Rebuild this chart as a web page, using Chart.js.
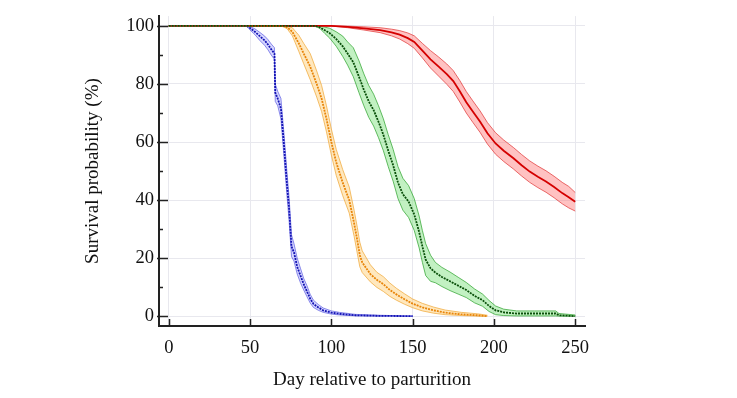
<!DOCTYPE html>
<html>
<head>
<meta charset="utf-8">
<script src="https://cdn.jsdelivr.net/npm/chart.js@4.4.1/dist/chart.umd.min.js"></script>
<style>
  html, body { margin: 0; padding: 0; background: #fff; }
  canvas { display: block; }
</style>
</head>
<body>
<canvas id="survival" width="737" height="398"></canvas>
<script>
// ticks
var xTicks = [0, 50, 100, 150, 200, 250];
var yTicks = [0, 20, 40, 60, 80, 100];
var yMinorTicks = [10, 30, 50, 70, 90];

// blue group
var blueDays  = [0, 48, 50, 53, 56, 59, 61, 63, 65, 65.5, 67, 69, 71, 72.5, 74, 75.5, 77, 79, 81, 83, 85, 87, 89, 92, 95, 100, 105, 115, 130, 150];
var blueSurv  = [100, 100, 99.3, 98, 96.5, 95, 93.6, 92, 90.5, 77, 75, 71.5, 58, 47, 37, 24, 22, 17, 14, 11, 8.5, 6, 4.2, 3, 2, 1.2, 0.8, 0.3, 0.1, 0];
var blueUpper = [100, 100, 99.8, 99, 97.8, 96.5, 95.3, 93.8, 92.5, 80, 77.5, 75, 62, 51, 41, 28, 25, 20, 16.5, 13, 10.5, 7.5, 5.5, 4, 2.8, 1.8, 1.3, 0.6, 0.3, 0];
var blueLower = [100, 100, 98.6, 97, 95, 93.3, 91.8, 90, 88.5, 74, 72.5, 68, 54, 43, 33, 20.5, 19, 14.5, 11.5, 9, 6.7, 4.5, 3, 2, 1.3, 0.7, 0.4, 0.1, 0, 0];

// orange group
var orangeDays  = [0, 70, 73, 76, 80, 83, 87, 91, 94, 97, 100, 103, 107, 111, 114, 116, 117.5, 119, 124, 128, 132, 136, 140, 145, 150, 156, 163, 170, 180, 190, 196];
var orangeSurv  = [100, 100, 99.5, 98, 94, 90.5, 86, 80, 75, 68, 60, 53, 46, 40, 32, 26, 21, 18.5, 14.5, 12.5, 11, 9, 7.5, 5.8, 4.3, 3, 2, 1.2, 0.6, 0.3, 0];
var orangeUpper = [100, 100, 99.9, 99.4, 96.8, 94, 90.5, 84.5, 79.5, 72.5, 64.5, 57.5, 50.5, 44.5, 36.5, 30.5, 25.5, 22.5, 17.7, 15.1, 13.6, 11.4, 9.6, 7.7, 5.9, 4.4, 3.1, 2.1, 1.3, 0.8, 0.3];
var orangeLower = [100, 100, 98.9, 96.6, 91.2, 87, 81.5, 75.5, 70.5, 63.5, 55.5, 48.5, 41.5, 35.5, 27.5, 21.5, 17, 15, 11.8, 9.9, 8.5, 6.8, 5.5, 4.1, 2.9, 1.8, 1, 0.5, 0.2, 0, 0];

// green group
var greenDays  = [0, 90, 93, 96, 99, 103, 107, 110, 113.5, 117, 120, 123, 126, 129, 132, 135, 138, 141, 144, 147.5, 151, 154, 156, 158, 161, 164, 168, 173, 178, 183, 188, 193, 197, 201, 206, 214, 225, 238, 240, 250];
var greenSurv  = [100, 100, 99.5, 98.5, 97.5, 95.5, 93, 90.5, 87.5, 82.5, 78, 74, 71, 67, 62.5, 57, 52, 46, 42, 39.5, 35, 29, 24, 19.5, 16.5, 15, 13.5, 12, 10.5, 9, 7, 5.5, 3.5, 2, 1.3, 0.9, 0.9, 0.9, 0.3, 0];
var greenUpper = [100, 100, 99.9, 99.6, 99.2, 98, 96.5, 94.5, 92.5, 88, 83.5, 79.5, 76.5, 72.5, 68, 62.5, 57.5, 51.5, 47.5, 45, 40.5, 34.5, 29.5, 25, 21, 18.5, 16.8, 15.2, 13.4, 11.6, 9.4, 7.6, 5.4, 3.5, 2.4, 1.8, 1.8, 1.8, 0.9, 0.4];
var greenLower = [100, 100, 99.1, 97.4, 95.8, 93, 89.5, 86.5, 82.5, 77, 72.5, 68.5, 65.5, 61.5, 57, 51.5, 46.5, 40.5, 36.5, 34, 29.5, 23.5, 18.5, 14, 12, 11.5, 10.2, 8.8, 7.6, 6.4, 4.6, 3.4, 1.6, 0.5, 0.2, 0.05, 0.05, 0.05, 0, 0];

// red group
var redDays  = [0, 100, 110, 120, 130, 137, 142, 147, 151, 156, 161, 166, 171, 175, 179, 183, 187, 191.5, 196, 201, 206, 212, 217, 222, 227, 232, 237, 242, 246, 250];
var redSurv  = [100, 100, 99.7, 99.2, 98.6, 97.8, 97, 95.8, 94.5, 91.5, 88.5, 86, 83.4, 81, 77.5, 73.7, 70.5, 67, 63, 59.5, 57, 54.4, 52, 49.8, 48, 46.4, 44.5, 42.4, 41, 39.4];
var redUpper = [100, 100, 99.95, 99.7, 99.4, 98.9, 98.4, 97.6, 96.6, 94, 91.5, 89.3, 86.9, 84.6, 81.2, 77.4, 74.2, 70.7, 66.7, 63.2, 60.7, 58.1, 55.7, 53.5, 51.7, 50.1, 48.2, 46.1, 44.7, 42.6];
var redLower = [100, 100, 99.4, 98.6, 97.7, 96.6, 95.5, 93.9, 92.3, 89, 85.5, 82.7, 79.9, 77.4, 73.8, 70, 66.8, 63.3, 59.3, 55.8, 53.3, 50.7, 48.3, 46.1, 44.3, 42.7, 40.8, 38.7, 37.3, 36.2];

function pts(xs, ys) {
  return xs.map(function(x, i){ return {x: x, y: ys[i]}; });
}

// band = lower line + upper line filled down to it, then the survival line on top
function group(days, surv, upper, lower, lineColor, fillColor, edgeColor, dash, width) {
  return [
    { data: pts(days, lower), borderColor: edgeColor, borderWidth: 1, pointRadius: 0, fill: false, order: 2 },
    { data: pts(days, upper), borderColor: edgeColor, borderWidth: 1, pointRadius: 0, fill: '-1', backgroundColor: fillColor, order: 2 },
    { data: pts(days, surv), borderColor: lineColor, borderWidth: width, borderDash: dash, pointRadius: 0, fill: false, order: 1 }
  ];
}

// green first so its line sits on top along the 100% line
var datasets = []
  .concat(group(greenDays, greenSurv, greenUpper, greenLower, '#0a500a', 'rgba(120,225,120,0.45)', 'rgba(40,160,40,0.7)', [2, 1], 1.8))
  .concat(group(orangeDays, orangeSurv, orangeUpper, orangeLower, '#e8850a', 'rgba(255,205,110,0.45)', 'rgba(240,165,50,0.7)', [2, 1], 1.8))
  .concat(group(blueDays, blueSurv, blueUpper, blueLower, '#1414b4', 'rgba(120,120,255,0.30)', 'rgba(70,70,220,0.6)', [2, 1], 1.8))
  .concat(group(redDays, redSurv, redUpper, redLower, '#d40000', 'rgba(255,120,120,0.45)', 'rgba(225,60,60,0.75)', [], 1.8));

// inward tick marks, drawn by hand on top of the axes
var innerTicks = {
  id: 'innerTicks',
  afterDraw: function(chart) {
    var ctx = chart.ctx, xs = chart.scales.x, ys = chart.scales.y;
    var left = chart.chartArea.left, bottom = chart.chartArea.bottom;
    ctx.save();
    ctx.strokeStyle = '#222';
    ctx.lineWidth = 1.5;
    ctx.beginPath();
    yTicks.forEach(function(v){
      var p = Math.round(ys.getPixelForValue(v)) + 0.5;
      ctx.moveTo(left - 2, p); ctx.lineTo(left + 9, p);
    });
    yMinorTicks.forEach(function(v){
      var p = Math.round(ys.getPixelForValue(v)) + 0.5;
      ctx.moveTo(left, p); ctx.lineTo(left + 4, p);
    });
    xTicks.forEach(function(v){
      var p = Math.round(xs.getPixelForValue(v)) + 0.5;
      ctx.moveTo(p, bottom); ctx.lineTo(p, bottom - 7);
    });
    ctx.stroke();
    ctx.restore();
  }
};

var serif = 'Liberation Serif';

new Chart(document.getElementById('survival'), {
  type: 'line',
  data: { datasets: datasets },
  options: {
    responsive: false,
    animation: false,
    layout: { padding: { left: 70, right: 152, top: 13, bottom: 0 } },
    plugins: {
      legend: { display: false },
      tooltip: { enabled: false }
    },
    elements: { line: { tension: 0 } },
    scales: {
      x: {
        type: 'linear',
        min: -6,
        max: 256,
        afterBuildTicks: function(scale){ scale.ticks = xTicks.map(function(v){ return {value: v}; }); },
        afterFit: function(scale){ scale.height = 72; },
        grid: { color: '#e8e8ee', lineWidth: 1, drawTicks: false },
        border: { color: '#222', width: 2 },
        ticks: { color: '#111', padding: 11, font: { family: serif, size: 18.5 } },
        title: {
          display: true,
          text: 'Day relative to parturition',
          color: '#111',
          padding: { top: 0, bottom: 7 },
          font: { family: serif, size: 19 }
        }
      },
      y: {
        type: 'linear',
        min: -3.4,
        max: 103.4,
        afterBuildTicks: function(scale){ scale.ticks = yTicks.map(function(v){ return {value: v}; }); },
        afterFit: function(scale){ scale.width = 89; },
        grid: { color: '#e8e8ee', lineWidth: 1, drawTicks: false },
        border: { color: '#222', width: 2 },
        ticks: { color: '#111', padding: 5, font: { family: serif, size: 18.5 } },
        title: {
          display: true,
          text: 'Survival probability (%)',
          color: '#111',
          padding: { top: 12, bottom: 0 },
          font: { family: serif, size: 19 }
        }
      }
    }
  },
  plugins: [innerTicks]
});
</script>
</body>
</html>
